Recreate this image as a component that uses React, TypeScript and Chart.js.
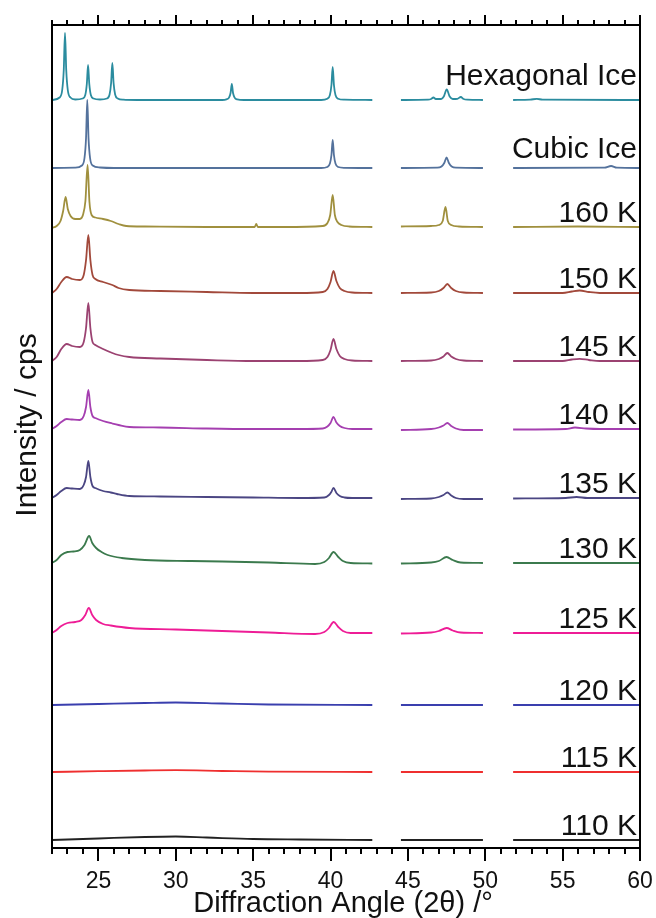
import React, { useEffect, useRef } from 'react';
import { Chart, registerables } from 'chart.js';

Chart.register(...registerables);

// ---- data (angle 2θ in degrees, intensity above each pattern's own baseline) ----
const sampleNames = ['Hexagonal Ice', 'Cubic Ice', '160 K', '150 K', '145 K', '140 K', '135 K', '130 K', '125 K', '120 K', '115 K', '110 K'];
const sampleColors = ['#2b8c9f', '#54729c', '#a0903e', '#a2493b', '#9b4271', '#a53fb0', '#4b4683', '#3b7a4d', '#ee1c96', '#3a3fae', '#ef2f2f', '#222222'];
const stackOffsets = [748, 680, 621, 555, 487, 419, 350, 285, 215, 143, 76, 8];
const xTickValues = [25, 30, 35, 40, 45, 50, 55, 60];
const xMin = 22;
const xMax = 60;

type P = [number, number | null];

const hexagonalIce: P[] = [
  [22, 0], [22.49, 2.5], [22.66, 10], [22.76, 30], [22.84, 67], [22.92, 30], [23.02, 10], [23.19, 2.5], [23.5, 0.5],
  [23.98, 1.5], [24.15, 5], [24.25, 16], [24.33, 35], [24.41, 16], [24.51, 5], [24.68, 1.5], [25.1, 0.5],
  [25.55, 1.5], [25.72, 5.5], [25.82, 17], [25.9, 37], [25.98, 17], [26.08, 5.5], [26.25, 1.5], [26.6, 0.3], [27.5, 0],
  [33.0, 0], [33.27, 0.6], [33.44, 2.4], [33.54, 7], [33.62, 16], [33.7, 7], [33.8, 2.4], [33.97, 0.6], [34.4, 0],
  [39.4, 0], [39.79, 1.3], [39.96, 5], [40.06, 15], [40.14, 33], [40.22, 15], [40.32, 5], [40.49, 1.3], [40.9, 0.3], [42.7, 0],
  [43.6, null],
  [44.55, 0], [46.3, 0.3], [46.5, 1], [46.65, 2.5], [46.8, 1], [47.15, 1], [47.32, 3.5], [47.51, 10.5], [47.7, 3.5], [47.9, 1],
  [48.2, 1.2], [48.42, 3], [48.6, 1], [48.85, 0.3], [49.85, 0],
  [50.8, null],
  [51.8, 0], [52.9, 0.3], [53.33, 1.2], [53.7, 0.3], [60, 0],
];

const cubicIce: P[] = [
  [22, 0], [23.5, 0.3], [23.93, 2.5], [24.1, 10], [24.2, 30], [24.28, 68], [24.36, 30], [24.46, 10], [24.63, 2.5], [25.1, 0.5], [26, 0],
  [39.4, 0], [39.79, 1], [39.96, 4.5], [40.06, 13], [40.14, 28], [40.22, 13], [40.32, 4.5], [40.49, 1], [40.9, 0.2], [42.7, 0],
  [43.6, null],
  [44.55, 0], [46.9, 0.3], [47.17, 1.5], [47.35, 5], [47.5, 10.5], [47.65, 5], [47.83, 1.5], [48.1, 0.3], [49.85, 0],
  [50.8, null],
  [51.8, 0], [57.7, 0.3], [58.13, 2], [58.5, 0.3], [60, 0],
];

const k160: P[] = [
  [22, -1], [22.3, 1], [22.55, 6], [22.72, 16], [22.88, 30], [23.02, 18], [23.2, 11], [23.5, 8], [23.8, 8], [24.0, 12],
  [24.16, 26], [24.3, 62], [24.42, 25], [24.56, 12], [24.8, 9.5], [25.3, 8], [25.8, 6], [26.3, 3], [26.8, 1], [28, 0.5],
  [32, 0], [35.1, 0], [35.2, 3], [35.3, 0], [37, 0], [39.5, 1], [39.8, 4], [39.98, 12], [40.14, 32], [40.28, 12],
  [40.45, 5], [40.7, 2], [41.2, 0.5], [42.7, 0],
  [43.6, null],
  [44.55, 0.5], [46.5, 1], [47.0, 2], [47.25, 6], [47.43, 20], [47.58, 6], [47.8, 2], [48.3, 0.5], [49.85, 0],
  [50.8, null],
  [51.8, 0], [56, 0.5], [60, 0],
];

const k150: P[] = [
  [22, 0], [22.3, 4], [22.6, 11], [22.95, 16], [23.3, 14], [23.8, 13], [24.05, 18], [24.2, 33], [24.35, 58], [24.48, 33],
  [24.62, 18], [24.8, 14], [25.3, 11], [25.9, 8], [26.3, 5], [27, 3], [29, 2], [32, 1], [35, 0], [38, 0],
  [39.5, 1], [39.8, 4], [40.0, 11], [40.19, 22], [40.38, 12], [40.6, 5], [40.9, 2], [41.4, 0.5], [42.7, 0],
  [43.6, null],
  [44.55, 0], [46.5, 0.5], [47.0, 2], [47.3, 5], [47.55, 9], [47.8, 5], [48.1, 2], [48.6, 0.5], [49.85, 0],
  [50.8, null],
  [51.8, 0], [55.0, 0], [55.6, 1.5], [56.1, 2.5], [56.7, 1], [57.4, 0], [60, 0],
];

const k145: P[] = [
  [22, 0], [22.3, 4], [22.6, 12], [22.95, 17], [23.3, 15], [23.8, 14], [24.05, 19], [24.2, 33], [24.35, 58], [24.48, 33],
  [24.62, 19], [24.8, 16], [25.3, 12], [25.9, 8], [26.3, 6], [27, 4], [29, 2.5], [32, 1], [35, 0], [38, 0],
  [39.5, 1], [39.8, 4], [40.0, 11], [40.19, 22], [40.38, 12], [40.6, 5], [40.9, 2], [41.4, 0.5], [42.7, 0],
  [43.6, null],
  [44.55, 0], [46.5, 0.5], [47.0, 2], [47.3, 4.5], [47.55, 8], [47.8, 4.5], [48.1, 2], [48.6, 0.5], [49.85, 0],
  [50.8, null],
  [51.8, 0], [55.0, 0], [55.6, 1.5], [56.1, 2.2], [56.7, 1], [57.4, 0], [60, 0],
];

const k140: P[] = [
  [22, 0], [22.3, 3], [22.6, 7], [22.95, 10], [23.3, 9.5], [23.8, 9], [24.05, 13], [24.2, 22], [24.35, 39], [24.48, 22],
  [24.62, 13], [24.8, 11], [25.3, 8], [25.9, 5.5], [26.3, 4], [27, 2], [29, 1.5], [32, 0.5], [35, 0], [38, 0],
  [39.5, 0.5], [39.8, 2.5], [40.0, 6], [40.19, 12], [40.38, 6.5], [40.6, 3], [40.9, 1], [41.4, 0], [42.7, 0],
  [43.6, null],
  [44.55, -1], [46.5, 0], [47.0, 1.5], [47.3, 3.5], [47.55, 6], [47.8, 3], [48.1, 0.5], [48.6, -1], [49.85, -1],
  [50.8, null],
  [51.8, -0.5], [55.2, 0], [55.8, 1.5], [56.5, 0.5], [57.4, 0], [60, 0],
];

const k135: P[] = [
  [22, 0], [22.3, 3], [22.6, 7], [22.95, 10], [23.3, 9.5], [23.8, 9], [24.05, 13], [24.2, 21], [24.35, 37], [24.48, 21],
  [24.62, 12], [24.8, 10], [25.3, 7], [25.8, 5.5], [26.2, 4], [27, 2], [29, 1.5], [32, 1], [35, 0.5], [38, 0],
  [39.6, 0.5], [39.9, 3], [40.05, 6], [40.19, 10], [40.38, 5], [40.6, 2], [40.9, 0.5], [41.4, 0], [42.7, 0],
  [43.6, null],
  [44.55, -1], [46.5, -0.5], [47.0, 1], [47.3, 3], [47.55, 5.5], [47.8, 2.5], [48.1, 0], [48.6, -1], [49.85, -1],
  [50.8, null],
  [51.8, -0.5], [55.2, 0], [55.9, 1], [56.6, 0], [60, 0],
];

const k130: P[] = [
  [22, 0], [22.3, 3], [22.6, 8], [23.0, 11], [23.4, 11.5], [23.8, 13], [24.1, 18], [24.4, 27], [24.6, 20], [24.85, 15],
  [25.2, 11], [25.6, 8], [26.5, 5], [28, 3], [31, 2], [33, 1.5], [36, 0.5], [39, -1], [39.6, 1], [39.9, 5], [40.19, 11],
  [40.5, 6], [40.8, 2], [41.3, 0], [42.7, -0.5],
  [43.6, null],
  [44.55, -0.5], [46.5, 0.5], [47.0, 2], [47.5, 6], [47.9, 3], [48.4, 0.5], [49.85, 0],
  [50.8, null],
  [51.8, 0], [60, 0],
];

const k125: P[] = [
  [22, 0], [22.3, 3], [22.6, 7], [23.0, 10], [23.5, 11], [23.9, 13], [24.15, 18], [24.38, 25], [24.6, 18], [24.85, 13],
  [25.3, 9], [25.8, 7.5], [27, 5], [30, 3.5], [33, 2], [36, 0.5], [39, -1], [39.6, 1], [39.9, 5], [40.2, 11],
  [40.5, 6], [40.8, 2], [41.3, 0], [42.7, 0],
  [43.6, null],
  [44.55, -0.5], [46.5, 0.5], [47.0, 2], [47.5, 5], [47.9, 2.5], [48.4, 0.5], [49.85, 0],
  [50.8, null],
  [51.8, 0], [60, 0],
];

const k120: P[] = [
  [22, 0], [25, 1], [28, 2], [30, 2.5], [33, 1.5], [36, 0.5], [42.7, 0],
  [43.6, null],
  [44.55, 0], [49.85, 0],
  [50.8, null],
  [51.8, 0], [60, 0],
];

const k115: P[] = [
  [22, 0], [25, 0.8], [28, 1.5], [30, 1.8], [33, 1], [36, 0.3], [42.7, 0],
  [43.6, null],
  [44.55, 0], [49.85, 0],
  [50.8, null],
  [51.8, 0], [60, 0],
];

const k110: P[] = [
  [22, 0], [25, 1.5], [28, 3], [30, 3.5], [32, 2.5], [35, 1], [38, 0.5], [42.7, 0],
  [43.6, null],
  [44.55, 0], [49.85, 0],
  [50.8, null],
  [51.8, 0], [60, 0],
];

const patterns: P[][] = [hexagonalIce, cubicIce, k160, k150, k145, k140, k135, k130, k125, k120, k115, k110];

const FONT = '"Liberation Sans", Arial, Helvetica, sans-serif';

const axesPlugin = {
  id: 'axesAndLabels',
  afterDraw(chart: any) {
    const { ctx, chartArea } = chart;
    const xs = chart.scales.x;
    const ys = chart.scales.y;
    const { left, right, top, bottom } = chartArea;
    ctx.save();
    ctx.strokeStyle = '#000';
    ctx.lineWidth = 2;
    ctx.lineCap = 'square';
    ctx.beginPath();
    ctx.rect(left, top, right - left, bottom - top);
    ctx.stroke();
    ctx.lineCap = 'butt';
    ctx.beginPath();
    for (let v = xMin; v <= xMax; v++) {
      const px = Math.round(xs.getPixelForValue(v));
      const major = v % 5 === 0;
      ctx.moveTo(px, top);
      ctx.lineTo(px, top - (major ? 10 : 5));
      ctx.moveTo(px, bottom);
      ctx.lineTo(px, bottom + (major ? 13 : 6));
    }
    ctx.stroke();

    ctx.fillStyle = '#111';
    ctx.font = `23px ${FONT}`;
    ctx.textAlign = 'center';
    ctx.textBaseline = 'alphabetic';
    xTickValues.forEach((v) => {
      ctx.fillText(String(v), xs.getPixelForValue(v), bottom + 40);
    });
    ctx.font = `29px ${FONT}`;
    ctx.fillText('Diffraction Angle (2θ) /°', (left + right) / 2 - 3, bottom + 64);

    ctx.font = `30px ${FONT}`;
    ctx.textAlign = 'right';
    sampleNames.forEach((name, i) => {
      const lift = i === 0 ? 15 : i === 1 ? 10 : 5;
      const y = ys.getPixelForValue(stackOffsets[i]) - lift;
      ctx.fillText(name, right - 3, y);
    });

    ctx.translate(35.5, 425);
    ctx.rotate(-Math.PI / 2);
    ctx.textAlign = 'center';
    ctx.textBaseline = 'alphabetic';
    ctx.font = `30px ${FONT}`;
    ctx.fillText('Intensity / cps', 0, 0);
    ctx.restore();
  },
};

export default function App() {
  const ref = useRef<HTMLCanvasElement | null>(null);
  useEffect(() => {
    document.body.style.margin = '0';
    const canvas = ref.current;
    if (!canvas) return;
    const datasets = patterns.map((pts, i) => ({
      label: sampleNames[i],
      data: pts.map(([x, y]) => ({ x, y: y === null ? null : y + stackOffsets[i] })),
      borderColor: sampleColors[i],
      backgroundColor: sampleColors[i],
      borderWidth: 1.8,
      pointRadius: 0,
      cubicInterpolationMode: 'monotone' as const,
      spanGaps: false,
      fill: false,
    }));
    const chart = new Chart(canvas, {
      type: 'line',
      data: { datasets },
      options: {
        animation: false,
        responsive: false,
        layout: { padding: { left: 52, right: 16, top: 25, bottom: 70 } },
        plugins: { legend: { display: false }, tooltip: { enabled: false } },
        scales: {
          x: { type: 'linear', display: false, min: xMin, max: xMax },
          y: { type: 'linear', display: false, min: 0, max: 823 },
        },
      },
      plugins: [axesPlugin],
    });
    return () => chart.destroy();
  }, []);
  return (
    <div style={{ width: 656, height: 918, background: '#fff' }}>
      <canvas ref={ref} width={656} height={918} style={{ display: 'block' }} />
    </div>
  );
}
